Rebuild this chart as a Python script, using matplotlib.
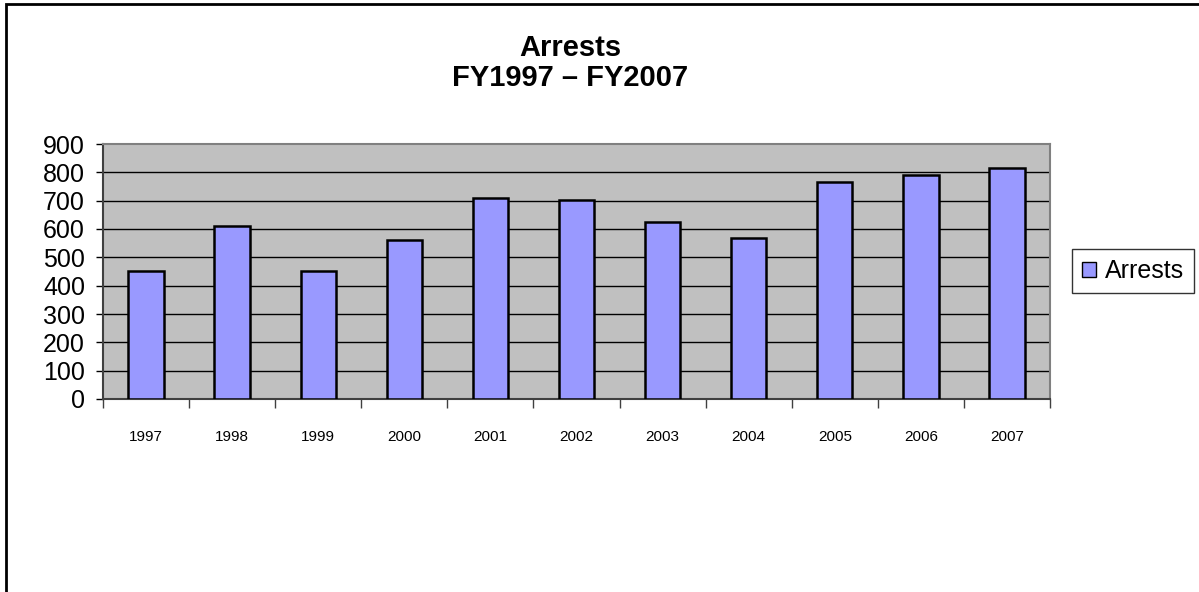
import matplotlib
matplotlib.use("Agg")
import matplotlib.pyplot as plt
from matplotlib.patches import Rectangle
import numpy as np

years = ["1997", "1998", "1999", "2000", "2001", "2002", "2003", "2004", "2005", "2006", "2007"]
arrests = [453, 609, 453, 561, 708, 701, 626, 569, 767, 792, 816]
y_ticks = [0, 100, 200, 300, 400, 500, 600, 700, 800, 900]
series_name = "Arrests"

plt.rcParams['font.family'] = ['Liberation Sans', 'DejaVu Sans']

W, H = 1199, 592
fig = plt.figure(figsize=(W / 100, H / 100), dpi=100)
fig.patch.set_facecolor('white')

# outer chart frame (left/top visible; right/bottom cropped)
fig.patches.append(Rectangle((6 / W, -0.1), 1.2, (1 - 4 / H) + 0.1, transform=fig.transFigure,
                             fill=False, edgecolor='black', linewidth=2.0, zorder=0))

ax = fig.add_axes([103 / W, 1 - 399 / H, (1050 - 103) / W, (399 - 144) / H])
ax.set_facecolor('#C0C0C0')

x = np.arange(len(years))
bars = ax.bar(x, arrests, width=0.41, color='#9999FF', edgecolor='black', linewidth=1.8,
              zorder=3, label=series_name)

ax.set_ylim(0, 900)
ax.set_xlim(-0.5, len(years) - 0.5)
ax.set_yticks(y_ticks)
ax.set_yticklabels([str(v) for v in y_ticks], fontsize=18)
for v in y_ticks[1:-1]:
    ax.axhline(v, color='black', linewidth=1.0, zorder=1)

# major ticks at category boundaries, labels at centres
ax.set_xticks(np.arange(-0.5, len(years), 1.0))
ax.set_xticklabels([])
ax.set_xticks(x, minor=True)
ax.set_xticklabels(years, minor=True, fontsize=11)
ax.tick_params(axis='x', which='major', direction='out', length=6.5, width=1.0, color='#404040')
ax.tick_params(axis='x', which='minor', length=0, pad=22)
ax.tick_params(axis='y', direction='out', length=5, width=1.0, pad=8, color='black')

for s in ['top', 'right']:
    ax.spines[s].set_color('#808080')
    ax.spines[s].set_linewidth(1.5)
for s in ['left', 'bottom']:
    ax.spines[s].set_color('#404040')
    ax.spines[s].set_linewidth(1.5)

fig.text(570 / W, 1 - 48 / H, "Arrests", ha='center', va='center', fontsize=21, fontweight='bold')
fig.text(570 / W, 1 - 78 / H, "FY1997 \u2013 FY2007", ha='center', va='center', fontsize=21, fontweight='bold')

leg = fig.legend(handles=[bars], labels=[series_name], loc='center left',
                 bbox_to_anchor=(1072 / W, 1 - 271 / H), fontsize=18,
                 frameon=True, fancybox=False, handlelength=0.55, handleheight=0.55,
                 handletextpad=0.35, borderpad=0.4, borderaxespad=0)
leg.get_frame().set_edgecolor('black')
leg.get_frame().set_linewidth(1.0)
for p in leg.get_patches():
    p.set_linewidth(1.0)

fig.savefig("out.png", dpi=100)
